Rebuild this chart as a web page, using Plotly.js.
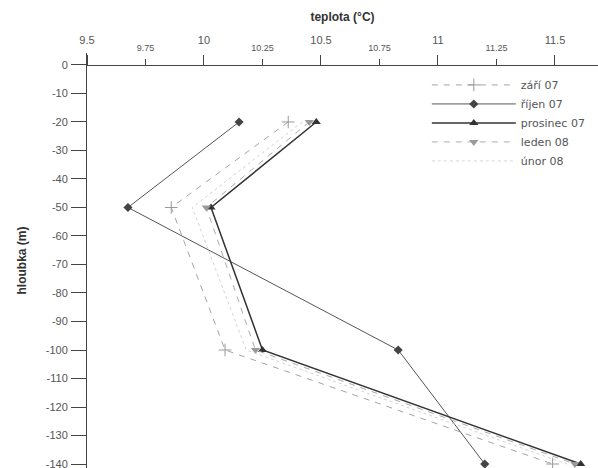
<!DOCTYPE html>
<html>
<head>
<meta charset="utf-8">
<script src="https://cdn.plot.ly/plotly-3.0.1.min.js"></script>
<style>html,body{margin:0;padding:0;background:#fff;}#chart{width:598px;height:468px;}</style>
</head>
<body>
<div id="chart"></div>
<script>
// Data
const depth = [-20, -50, -100, -140];
const zari07 = [10.36, 9.86, 10.09, 11.49];
const rijen07 = [10.15, 9.675, 10.83, 11.20];
const prosinec07 = [10.48, 10.03, 10.25, 11.61];
const leden08 = [10.45, 10.01, 10.22, 11.585];
const unor08 = [10.42, 9.95, 10.18, 11.55];
const seriesNames = ["září 07", "říjen 07", "prosinec 07", "leden 08", "únor 08"];

const xMajorTicks = [9.5, 10, 10.5, 11, 11.5];
const xMajorLabels = ["9.5", "10", "10.5", "11", "11.5"];
const xMinorTicks = [9.75, 10.25, 10.75, 11.25];
const xMinorLabels = ["9.75", "10.25", "10.75", "11.25"];
const yTicks = [0, -10, -20, -30, -40, -50, -60, -70, -80, -90, -100, -110, -120, -130, -140];
const yLabels = ["0", "-10", "-20", "-30", "-40", "-50", "-60", "-70", "-80", "-90", "-100", "-110", "-120", "-130", "-140"];

const xRange = [9.5, 11.684];
const yRange = [-141.4, 4.2];
const zeroPos = (0 - yRange[0]) / (yRange[1] - yRange[0]);

const traces = [
  {x: zari07, y: depth, name: seriesNames[0], mode: "lines+markers",
   line: {color: "#a5a5a5", width: 1, dash: "6px,6px"},
   marker: {symbol: "cross-thin", size: 9, line: {color: "#999", width: 1}, color: "#999"}},
  {x: rijen07, y: depth, name: seriesNames[1], mode: "lines+markers",
   line: {color: "#555", width: 1},
   marker: {symbol: "diamond", size: 7, color: "#444"}},
  {x: prosinec07, y: depth, name: seriesNames[2], mode: "lines+markers",
   line: {color: "#333", width: 1.5},
   marker: {symbol: "triangle-up", size: 8, color: "#333"}},
  {x: leden08, y: depth, name: seriesNames[3], mode: "lines+markers",
   line: {color: "#aaa", width: 1, dash: "6px,6px"},
   marker: {symbol: "triangle-down", size: 8, color: "#999"}},
  {x: unor08, y: depth, name: seriesNames[4], mode: "lines",
   line: {color: "#d4d4d4", width: 1, dash: "dot"}},
  {x: xRange, y: [0, 0], xaxis: "x2", mode: "lines", showlegend: false, hoverinfo: "skip",
   line: {color: "rgba(0,0,0,0)", width: 0}}
];

const layout = {
  width: 598, height: 468,
  margin: {l: 87, r: 0, t: 53, b: 0},
  paper_bgcolor: "#fff", plot_bgcolor: "#fff",
  font: {family: "Liberation Sans, Arial, sans-serif", color: "#555", size: 11},
  showlegend: true,
  legend: {x: 0.665, y: 0.958, xanchor: "left", yanchor: "top",
    font: {size: 11, color: "#555", family: "DejaVu Sans, sans-serif"},
    bgcolor: "rgba(0,0,0,0)", itemwidth: 84, tracegroupgap: 0},
  xaxis: {
    range: xRange, side: "top", anchor: "free", position: zeroPos,
    tickmode: "array", tickvals: xMajorTicks, ticktext: xMajorLabels,
    ticks: "outside", ticklen: 10, tickcolor: "#444", tickwidth: 1,
    ticklabelstandoff: 7,
    showline: true, linecolor: "#444", linewidth: 1,
    showgrid: false, zeroline: false,
    tickfont: {size: 11, color: "#555"},
    title: {text: "<b>teplota (°C)</b>", font: {size: 12, color: "#333"}, standoff: 8}
  },
  xaxis2: {
    range: xRange, side: "top", overlaying: "x", anchor: "free", position: zeroPos,
    tickmode: "array", tickvals: xMinorTicks, ticktext: xMinorLabels,
    ticks: "outside", ticklen: 6, tickcolor: "#444", tickwidth: 1,
    ticklabelstandoff: 4,
    showline: false, showgrid: false, zeroline: false,
    tickfont: {size: 9, color: "#555"}
  },
  yaxis: {
    range: yRange, tickmode: "array", tickvals: yTicks, ticktext: yLabels,
    ticks: "outside", ticklen: 15, tickcolor: "#444", tickwidth: 1,
    ticklabeloverflow: "allow", ticklabelstandoff: 1,
    showline: true, linecolor: "#444", linewidth: 1,
    showgrid: false, zeroline: false,
    tickfont: {size: 11, color: "#555"},
    title: {text: "<b>hloubka (m)</b>", font: {size: 12, color: "#333"}, standoff: 16}
  }
};

Plotly.newPlot("chart", traces, layout, {displayModeBar: false, staticPlot: true});
</script>
</body>
</html>
